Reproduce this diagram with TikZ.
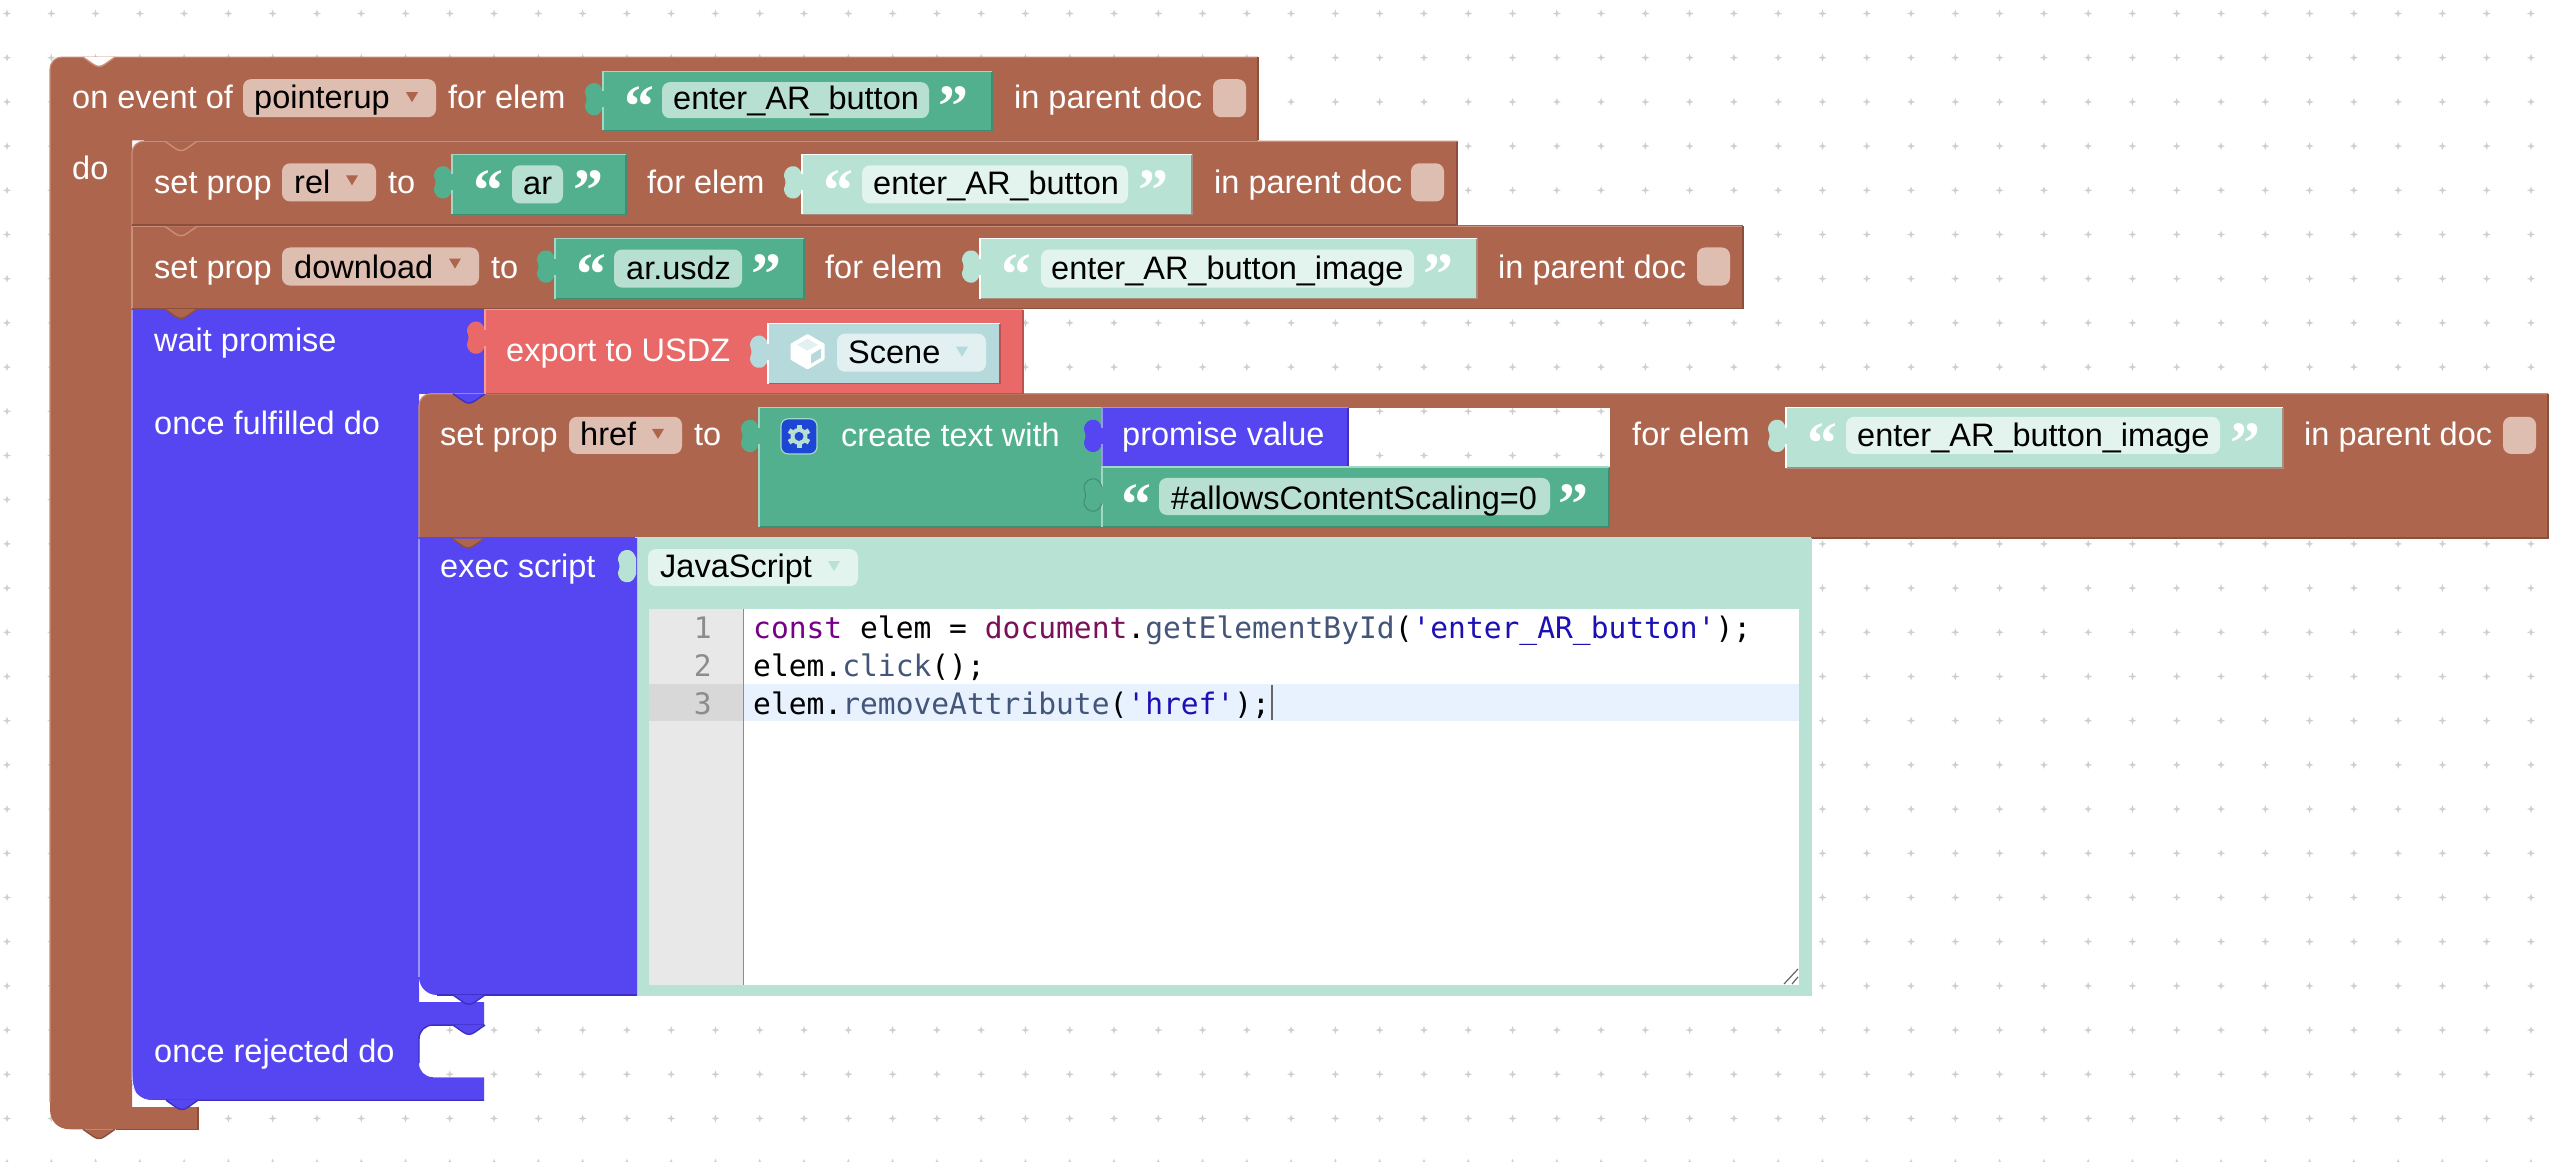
\documentclass[tikz,border=0pt]{standalone}
\usepackage{fontspec}
\setmainfont{Liberation Sans}
\newfontfamily\codefont{DejaVu Sans Mono}
\newfontfamily\quotefont{Liberation Serif}[BoldFont={Liberation Serif Bold}]
\definecolor{brown}{HTML}{AE654E}
\definecolor{brownL}{HTML}{C98F7A}
\definecolor{brownD}{HTML}{8C4F3B}
\definecolor{brownF}{HTML}{DFBEB2}
\definecolor{pblue}{HTML}{5546F2}
\definecolor{pblueL}{HTML}{9A92F8}
\definecolor{pblueD}{HTML}{3D30C0}
\definecolor{green}{HTML}{52B08F}
\definecolor{greenL}{HTML}{A0D8C5}
\definecolor{greenD}{HTML}{3F8D72}
\definecolor{greenF}{HTML}{B8E0D2}
\definecolor{lgreen}{HTML}{B8E2D3}
\definecolor{lgreenF}{HTML}{E3F4EE}
\definecolor{lgreenD}{HTML}{A68F80}
\definecolor{red}{HTML}{E96868}
\definecolor{redL}{HTML}{F39A9A}
\definecolor{redD}{HTML}{BC5252}
\definecolor{sky}{HTML}{B6DADB}
\definecolor{skyF}{HTML}{E2F0F1}
\definecolor{gearb}{HTML}{1E46D4}
\definecolor{kwd}{HTML}{770088}
\definecolor{vardoc}{HTML}{7A0F5A}
\definecolor{meth}{HTML}{44557A}
\definecolor{strg}{HTML}{1C10B5}
\definecolor{gut}{HTML}{E8E8E8}
\definecolor{gutA}{HTML}{D8D8D8}
\definecolor{lineA}{HTML}{E8F2FF}
\definecolor{dotc}{HTML}{CFCFCF}
\tikzset{
  x=1pt, y=-1.002pt,
  wlbl/.style={anchor=base west, inner sep=0pt, text=white, yshift=-1.5pt, font=\fontsize{32.5}{36}\selectfont},
  blbl/.style={anchor=base west, inner sep=0pt, text=black, yshift=-1.5pt, font=\fontsize{32.5}{36}\selectfont},
  qmk/.style={anchor=base, inner sep=0pt, font=\quotefont\bfseries\fontsize{60}{64}\selectfont},
  codeln/.style={anchor=base west, inner sep=0pt, text=black, yshift=-1pt, font=\codefont\fontsize{29.6}{36}\selectfont},
  gutnum/.style={anchor=base east, inner sep=0pt, text=black!45, yshift=-1pt, font=\codefont\fontsize{29.6}{36}\selectfont},
}
\newcommand{\fld}[5]{\fill[#5, rounded corners=8pt] (#1,#2) rectangle (#3,#4);}
\newcommand{\ddarr}[3]{\fill[#3] ({#1-6},#2) -- ({#1+6},#2) -- (#1,{#2+10}) -- cycle;}
\newcommand{\vtab}[4]{%
  \fill[#3] (#1,#2) -- ({#1+10},{#2+7}) .. controls ({#1+14},{#2+10}) and ({#1+18},{#2+10}) .. ({#1+22},{#2+7}) -- ({#1+32},#2) -- cycle;
  \draw[#4, line width=1.4pt] (#1,#2) -- ({#1+10},{#2+7}) .. controls ({#1+14},{#2+10}) and ({#1+18},{#2+10}) .. ({#1+22},{#2+7}) -- ({#1+32},#2);}
\newcommand{\tabcurve}{(0,36) .. controls (-1,39) and (-3,43) .. (-7,44) .. controls (-12,45) and (-18,42) .. (-18,34) .. controls (-16,30) and (-16,26) .. (-18,22) .. controls (-18,14) and (-12,11) .. (-7,12) .. controls (-3,13) and (-1,17) .. (0,20)}
% x y x2 y2 fill light dark
\newcommand{\tabblk}[7]{%
  \begin{scope}[shift={(#1,#2)}]
  \fill[#5] (0,0) -- ({#3-#1},0) -- ({#3-#1},{#4-#2}) -- (0,{#4-#2}) -- (0,36)
    .. controls (-1,39) and (-3,43) .. (-7,44) .. controls (-12,45) and (-18,42) .. (-18,34)
    .. controls (-16,30) and (-16,26) .. (-18,22) .. controls (-18,14) and (-12,11) .. (-7,12)
    .. controls (-3,13) and (-1,17) .. (0,20) -- cycle;
  \draw[#7, line width=1.4pt] ({#3-#1},0) -- ({#3-#1},{#4-#2}) -- (0,{#4-#2});
  \draw[#6, line width=1.2pt] (0,{#4-#2}) -- (0,36) (0,20) -- (0,0) -- ({#3-#1},0);
  \end{scope}}
\newcommand{\qmark}[5]{\node[qmk, text=#5] (#1) at (#2,{#3+32}) {#4};}
\begin{document}
\begin{tikzpicture}
\useasboundingbox (0,0) rectangle (2560,1159.68);
\fill[white] (0,0) rectangle (2560,1159.68);
% dotted grid
\foreach \i in {0,...,57}{\foreach \j in {0,...,26}{
  \fill[dotc] ({7+44.28*\i},{13.47+44.11*\j-4}) -- ({7+44.28*\i+1},{13.47+44.11*\j-1}) -- ({7+44.28*\i+4},{13.47+44.11*\j}) -- ({7+44.28*\i+1},{13.47+44.11*\j+1}) -- ({7+44.28*\i},{13.47+44.11*\j+4}) -- ({7+44.28*\i-1},{13.47+44.11*\j+1}) -- ({7+44.28*\i-4},{13.47+44.11*\j}) -- ({7+44.28*\i-1},{13.47+44.11*\j-1}) -- cycle;
}}
% outer on-event block
\fill[brown] (50,70) .. controls (50,62) and (55,57) .. (62,57) -- (1258,57) -- (1258,140) -- (132,140) -- (132,1105) -- (198,1105) -- (198,1127) -- (70,1127) .. controls (58,1127) and (50,1119) .. (50,1107) -- cycle;
\draw[brownL, line width=1.2pt] (50,1100) -- (50,70) .. controls (50,62) and (55,57) .. (62,57) -- (1258,57);
\draw[brownD, line width=1.4pt] (1258,57) -- (1258,140) (198,1105) -- (198,1127) -- (116,1127);
\vtab{83}{57}{white}{brownL}
\vtab{83}{1127}{brown}{brownD}
% row 2
\fill[brown] (132,153) .. controls (132,146) and (137,141) .. (144,141) -- (1457,141) -- (1457,225) -- (132,225) -- cycle;
\draw[brownD, line width=1.4pt] (144,140) -- (1258,140) (1457,141) -- (1457,225);
\draw[brownL, line width=1.2pt] (132,225) -- (132,153) .. controls (132,146) and (137,141) .. (144,141) -- (1457,141);
\vtab{165}{141}{brown}{brownL}
% row 3
\fill[brown] (132,225) rectangle (1743,308);
\draw[brownL, line width=1.2pt] (132,308) -- (132,226) -- (1743,226);
\draw[brownD, line width=1.4pt] (132,224.5) -- (1457,224.5) (1743,226) -- (1743,308);
\vtab{165}{226}{brown}{brownL}
% blue promise block
\fill[pblue] (132,308) -- (484,308) -- (484,393) -- (419,393) -- (419,1000) -- (484,1000) -- (484,1023) -- (453,1023) -- (433,1023) .. controls (425,1023) and (419,1029) .. (419,1037) -- (419,1061) .. controls (419,1069) and (425,1075) .. (433,1075) -- (484,1075) -- (484,1098) -- (152,1098) .. controls (141,1098) and (132,1090) .. (132,1078) -- cycle;
\draw[pblueL, line width=1.2pt] (132,1078) -- (132,309) (433,1075) -- (484,1075);
\draw[pblueD, line width=1.4pt] (484,1023) -- (433,1023) .. controls (425,1023) and (419,1029) .. (419,1037) -- (419,1061) (484,1098) -- (152,1098);
\fill[white] (132,1070) .. controls (132,1090) and (141,1103) .. (155,1103) -- (170,1103) -- (170,1098) -- (152,1098) .. controls (141,1098) and (132,1090) .. (132,1078) -- cycle;
\vtab{166}{1098}{pblue}{pblueD}
\vtab{453}{1023}{pblue}{pblueD}
\draw[brownD, line width=1.4pt] (132,308) -- (1743,308);
\vtab{165}{308.5}{brown}{brownD}
% href row
\fill[brown, even odd rule] (419,405) .. controls (419,398) and (424,393) .. (431,393) -- (2548,393) -- (2548,537) -- (419,537) -- cycle (1300,407) rectangle (1610,466);
\draw[brownL, line width=1.2pt] (419,537) -- (419,405) .. controls (419,398) and (424,393) .. (431,393) -- (2548,393);
\draw[brownD, line width=1.4pt] (2548,393) -- (2548,537) -- (419,537);
\vtab{453}{393}{pblue}{pblueD}
% red export block
\tabblk{485}{309}{1023}{393}{red}{redL}{redD}
% exec panel
\tabblk{636}{537}{1811}{993}{lgreen}{lgreen}{lgreen}
% exec blue
\fill[white] (419,960) -- (419,980) .. controls (419,990) and (428,998) .. (440,998) -- (458,998) -- (458,960) -- cycle;
\fill[pblue] (419,537) -- (637,537) -- (637,993) -- (437,993) .. controls (427,993) and (419,985) .. (419,975) -- cycle;
\draw[pblueL, line width=1.2pt] (419,975) -- (419,538);
\draw[pblueD, line width=1.2pt] (637,993) -- (437,993);
\vtab{453}{993}{pblue}{pblueD}
\vtab{452}{537.5}{brown}{brownD}
\begin{scope}[shift={(636,537)}]
\fill[lgreen] \tabcurve -- cycle;
\end{scope}
% editor
\fill[white] (649,608) rectangle (1799,983);
\fill[gut] (649,608) rectangle (743,983);
\fill[gutA] (649,683) rectangle (743,720);
\fill[lineA] (743,683) rectangle (1799,720);
\draw[black!45, line width=1pt] (743,608) -- (743,983);
\draw[black!60, line width=1.2pt] (1784,982) -- (1798,967) (1792,982) -- (1798,975);
\draw[black!60, line width=1.5pt] (1272,684) -- (1272,719);
\node[gutnum] (n1) at (712,636) {1};
\node[gutnum] (n2) at (712,674) {2};
\node[gutnum] (n3) at (712,712) {3};
\node[codeln] (c1) at (753,636) {\textcolor{kwd}{const} elem = \textcolor{vardoc}{document}.\textcolor{meth}{getElementById}(\textcolor{strg}{'enter\_AR\_button'});};
\node[codeln] (c2) at (753,674) {elem.\textcolor{meth}{click}();};
\node[codeln] (c3) at (753,712) {elem.\textcolor{meth}{removeAttribute}(\textcolor{strg}{'href'});};
% labels row 1
\node[wlbl] (t1a) at (72,107) {on event of};
\fld{243}{79}{436}{117}{brownF}
\node[blbl] (t1b) at (254,107) {pointerup};
\ddarr{412}{92}{brown}
\node[wlbl] (t1c) at (448,107) {for elem};
\tabblk{603}{71}{992}{130}{green}{greenL}{greenD}
\qmark{q1a}{639}{94}{“}{white}
\fld{662}{82}{929}{118}{greenF}
\node[blbl] (t1d) at (673,108) {enter\_AR\_button};
\qmark{q1b}{953}{94}{”}{white}
\node[wlbl] (t1e) at (1014,107) {in parent doc};
\fld{1213}{79}{1246}{117}{brownF}
\node[wlbl] (tdo) at (72,178) {do};
% row 2
\node[wlbl] (t2a) at (154,192) {set prop};
\fld{282}{163}{376}{201}{brownF}
\node[blbl] (t2b) at (294,192) {rel};
\ddarr{352}{175}{brown}
\node[wlbl] (t2c) at (388,192) {to};
\tabblk{452}{154}{626}{214}{green}{greenL}{greenD}
\qmark{q2a}{488}{178}{“}{white}
\fld{512}{165}{563}{203}{greenF}
\node[blbl] (t2d) at (523,193) {ar};
\qmark{q2b}{588}{178}{”}{white}
\node[wlbl] (t2e) at (647,192) {for elem};
\tabblk{802}{154}{1192}{214}{lgreen}{white}{lgreenD}
\qmark{q2c}{838}{178}{“}{white}
\fld{862}{165}{1128}{203}{lgreenF}
\node[blbl] (t2f) at (873,193) {enter\_AR\_button};
\qmark{q2d}{1153}{178}{”}{white}
\node[wlbl] (t2g) at (1214,192) {in parent doc};
\fld{1411}{163}{1444}{201}{brownF}
% row 3
\node[wlbl] (t3a) at (154,276) {set prop};
\fld{282}{247}{479}{285}{brownF}
\node[blbl] (t3b) at (294,276) {download};
\ddarr{455}{258}{brown}
\node[wlbl] (t3c) at (491,276) {to};
\tabblk{555}{238}{804}{298}{green}{greenL}{greenD}
\qmark{q3a}{591}{262}{“}{white}
\fld{614}{249}{742}{287}{greenF}
\node[blbl] (t3d) at (626,277) {ar.usdz};
\qmark{q3b}{766}{262}{”}{white}
\node[wlbl] (t3e) at (825,276) {for elem};
\tabblk{980}{238}{1477}{298}{lgreen}{white}{lgreenD}
\qmark{q3c}{1016}{262}{“}{white}
\fld{1041}{249}{1414}{287}{lgreenF}
\node[blbl] (t3f) at (1051,277) {enter\_AR\_button\_image};
\qmark{q3d}{1438}{262}{”}{white}
\node[wlbl] (t3g) at (1498,276) {in parent doc};
\fld{1697}{247}{1730}{285}{brownF}
% wait promise
\node[wlbl] (t4a) at (154,349) {wait promise};
\node[wlbl] (t4b) at (506,359) {export to USDZ};
\tabblk{768}{323}{1000}{383}{sky}{white}{redD}
\draw[white, fill=white, line width=3pt, line join=round] (807.5,335) -- (823,344) -- (823,358) -- (807.5,367) -- (792,358) -- (792,344) -- cycle;
\fill[sky] (811,354) -- (821,348) -- (821,357) -- (811,363) -- cycle;
\fill[skyF] (807.5,338) -- (818,344) -- (807.5,350) -- (797,344) -- cycle;
\fld{837}{333}{986}{371}{skyF}
\node[blbl] (t4c) at (848,361) {Scene};
\ddarr{962}{346}{sky}
\node[wlbl] (t4d) at (154,432) {once fulfilled do};
% href row
\node[wlbl] (t5a) at (440,443) {set prop};
\fld{569}{416}{682}{453}{brownF}
\node[blbl] (t5b) at (580,443) {href};
\ddarr{658}{428}{brown}
\node[wlbl] (t5c) at (694,443) {to};
\tabblk{759}{407}{1102}{526}{green}{greenL}{greenD}
\fill[gearb, draw=greenL, line width=1.2pt, rounded corners=7pt] (781,418) rectangle (817,453);
\foreach \a in {30,90,150,210,270,330}{\draw[greenF, line width=5pt] (799,435.5) ++(\a:5) -- ++(\a:6.5);}
\fill[greenF] (799,435.5) circle[radius=8.5pt];
\fill[gearb] (799,435.5) circle[radius=4.5pt];
\node[wlbl] (t5d) at (841,444) {create text with};
\tabblk{1102}{407}{1348}{466}{pblue}{pblueL}{pblueD}
\node[wlbl] (t5e) at (1122,443) {promise value};
\tabblk{1102}{466}{1609}{526}{green}{greenL}{greenD}
\begin{scope}[shift={(1102,466)}]
\draw[greenD, line width=1pt] \tabcurve;
\end{scope}
\qmark{q5a}{1136}{491}{“}{white}
\fld{1159}{477}{1550}{514}{greenF}
\node[blbl] (t5f) at (1171,507) {\#allowsContentScaling=0};
\qmark{q5b}{1573}{491}{”}{white}
\node[wlbl] (t5g) at (1632,443) {for elem};
\tabblk{1786}{407}{2283}{467}{lgreen}{white}{lgreenD}
\qmark{q5c}{1822}{431}{“}{white}
\fld{1846}{416}{2220}{453}{lgreenF}
\node[blbl] (t5h) at (1857,444) {enter\_AR\_button\_image};
\qmark{q5d}{2245}{431}{”}{white}
\node[wlbl] (t5i) at (2304,443) {in parent doc};
\fld{2503}{416}{2536}{453}{brownF}
% exec script
\node[wlbl] (t6a) at (440,575) {exec script};
\fld{648}{548}{858}{585}{lgreenF}
\node[blbl] (t6b) at (660,575) {JavaScript};
\ddarr{834}{560}{lgreen}
\node[wlbl] (t6c) at (154,1059) {once rejected do};
\end{tikzpicture}
\end{document}
